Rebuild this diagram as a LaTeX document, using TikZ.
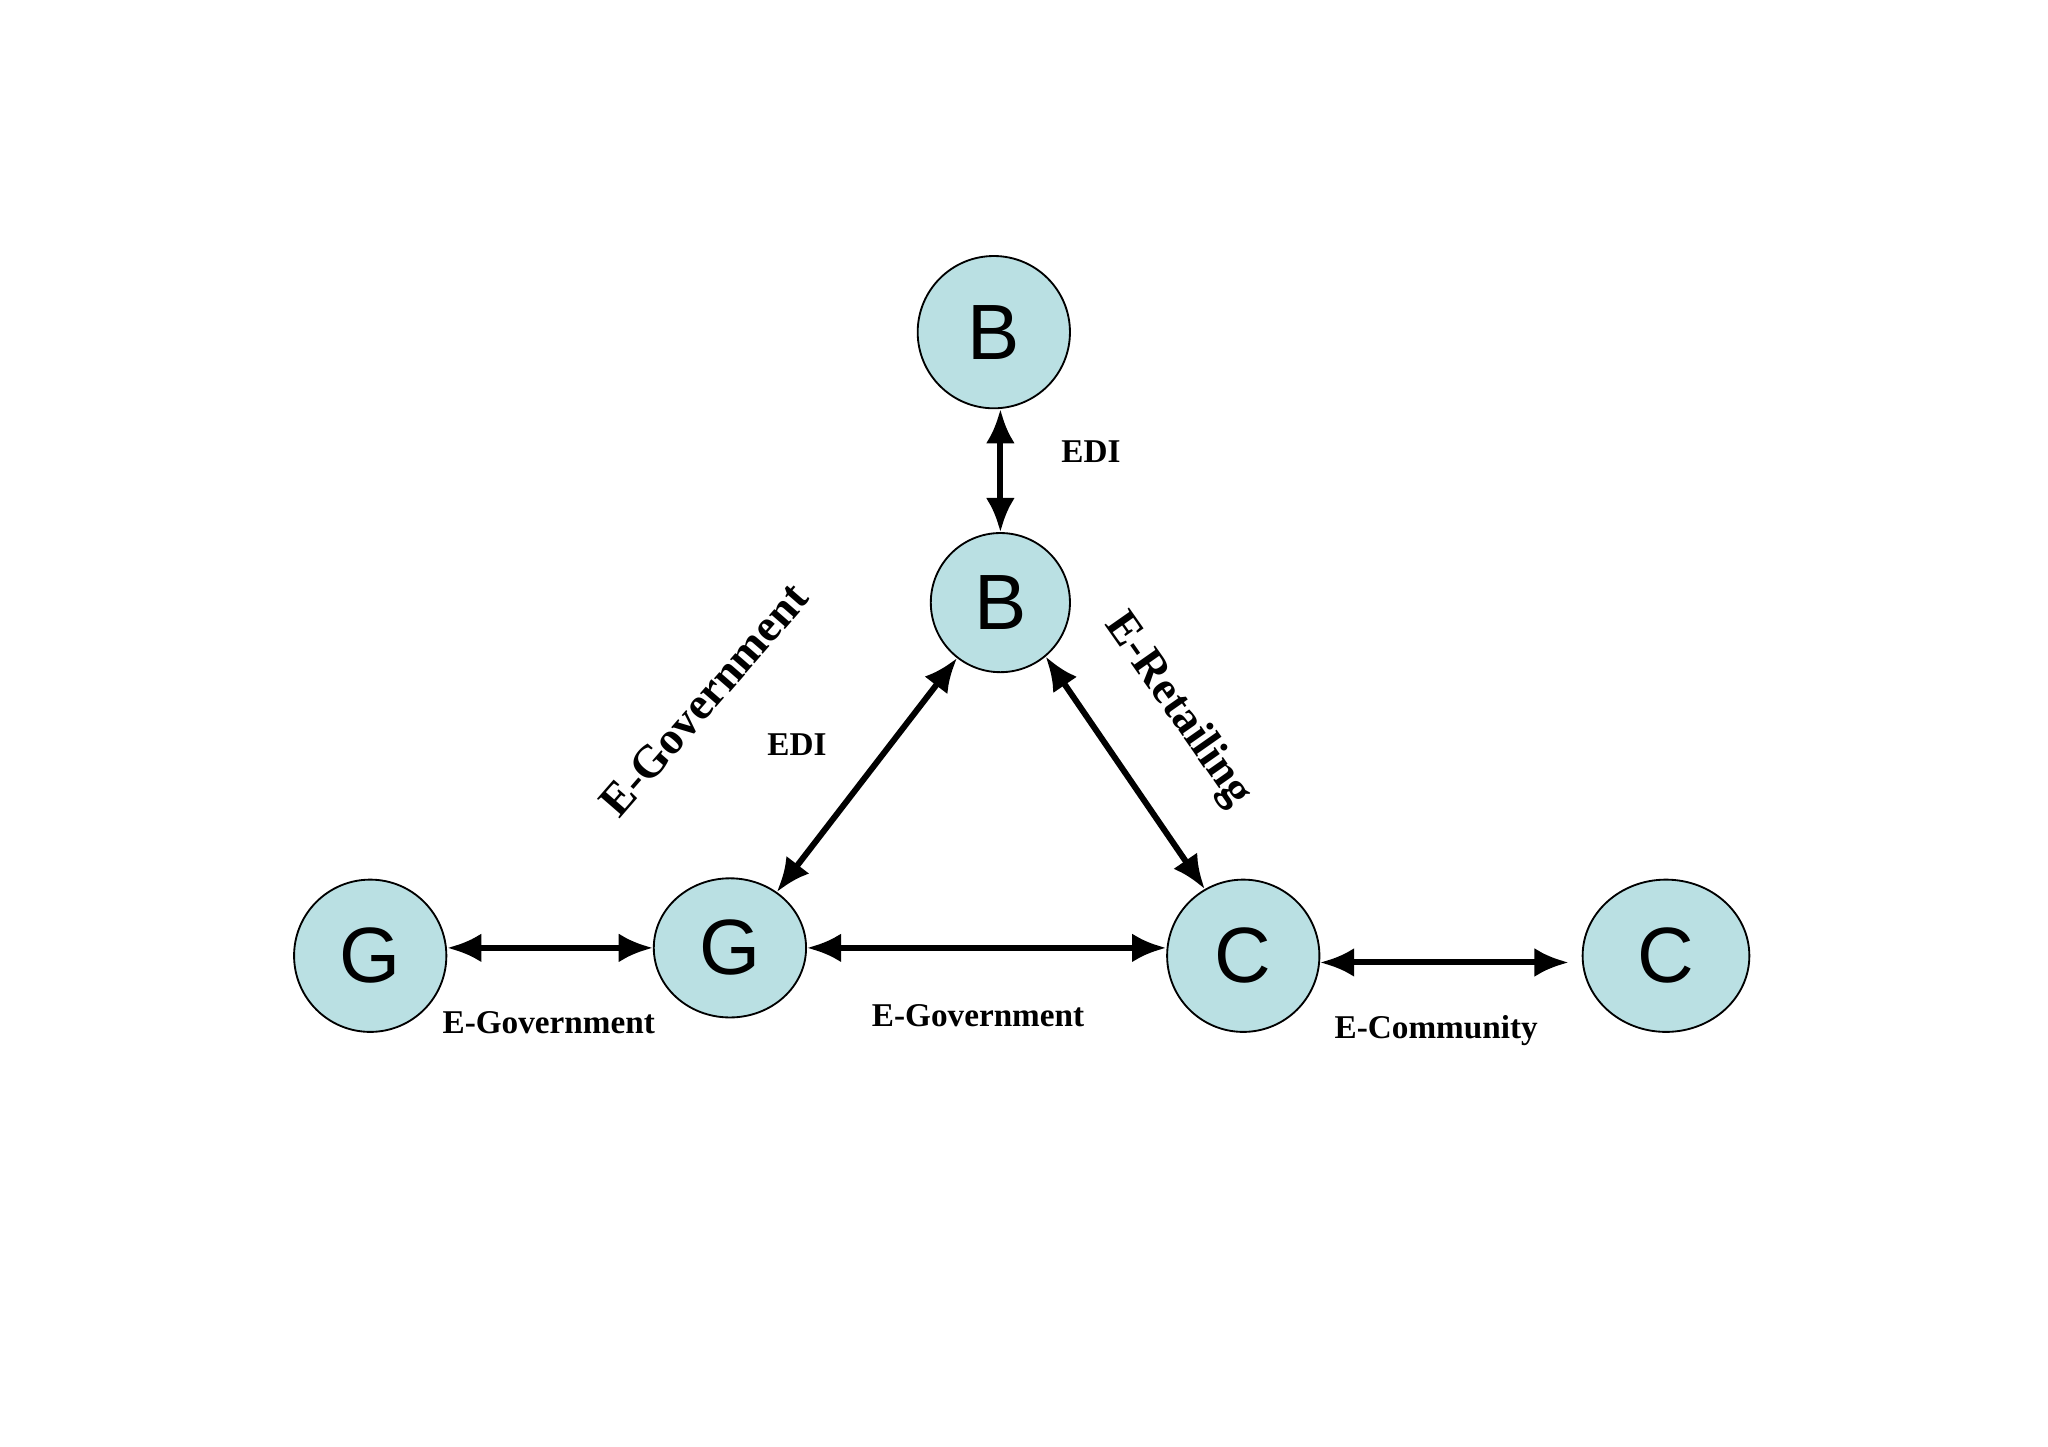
\documentclass[tikz,border=0pt]{standalone}
\usepackage{fontspec}
\setmainfont{Liberation Serif}
\newfontfamily\lettfont{Liberation Sans}
\usetikzlibrary{arrows.meta,shapes.geometric}
\tikzset{
  party/.style={ellipse, draw=black, fill=partyblue, minimum width=1.16cm, minimum height=1.16cm, inner sep=0pt, font=\lettfont\fontsize{17}{17}\selectfont},
  link/.style={{Latex[length=2.6mm,width=2.2mm]}-{Latex[length=2.6mm,width=2.2mm]}, line width=1.3pt},
  lbl/.style={font=\bfseries\fontsize{7.2}{9}\selectfont},
  biglbl/.style={font=\bfseries\fontsize{9.9}{12}\selectfont}
}
\definecolor{partyblue}{HTML}{BAE0E3}
\begin{document}
\begin{tikzpicture}[y=-1cm]
        \useasboundingbox (0,0) rectangle (15.6,11.02);
        % parties
        \node[party] (btop) at (7.57,2.53) {B};
        \node[party, minimum width=1.06cm, minimum height=1.06cm] (bmid) at (7.62,4.59) {B};
        \node[party] (gleft) at (2.82,7.28) {G};
        \node[party, minimum height=1.06cm] (gmid) at (5.56,7.22) {G};
        \node[party] (cmid) at (9.47,7.28) {C};
        \node[party, minimum width=1.27cm] (cright) at (12.69,7.28) {C};
        % connections
        \draw[link] (btop.south -| bmid.north) -- (bmid.north);
        \draw[link] (gmid.50) -- (bmid.232);
        \draw[link] (bmid.-50) -- (cmid.120);
        \draw[link] (gleft.east |- gmid.east) -- (gmid.west);
        \draw[link] (gmid.east) -- (cmid.west |- gmid.east);
        \draw[link] (cmid.-5) -- ([xshift=-1mm]cright.west |- cmid.-5);
        % labels
        \node[lbl] (edia) at (8.31,3.44) {EDI};
        \node[lbl] (edib) at (6.07,5.67) {EDI};
        \node[biglbl, rotate=49] (egova) at (5.36,5.33) {E-Government};
        \node[biglbl, rotate=-55] (eret) at (8.97,5.41) {E-Retailing};
        \node[lbl] (egovb) at (4.18,7.79) {E-Government};
        \node[lbl] (egovc) at (7.45,7.74) {E-Government};
        \node[lbl] (ecom) at (10.94,7.85) {E-Community};
\end{tikzpicture}
\end{document}
